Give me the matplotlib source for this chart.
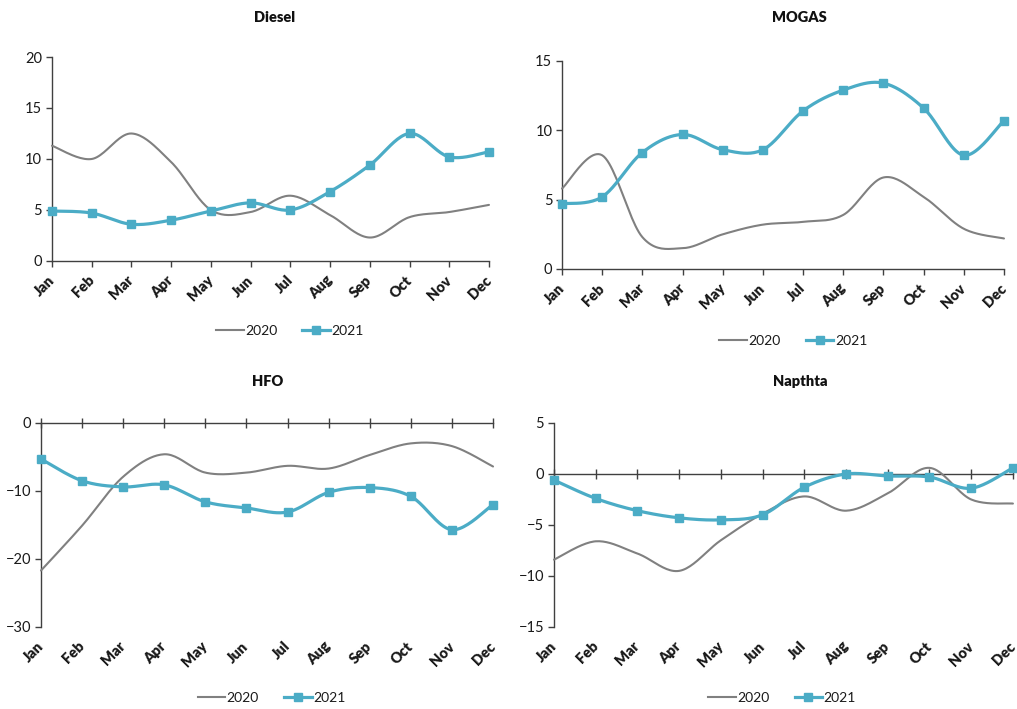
import numpy as np
import matplotlib
matplotlib.use("Agg")
import matplotlib.pyplot as plt
from matplotlib.lines import Line2D
import matplotlib.transforms as mtransforms

plt.rcParams['font.family'] = ['Lato', 'DejaVu Sans']

months = ["Jan", "Feb", "Mar", "Apr", "May", "Jun",
          "Jul", "Aug", "Sep", "Oct", "Nov", "Dec"]

diesel_2020 = [11.3, 10.0, 12.5, 9.7, 5.0, 4.8, 6.4, 4.5, 2.3, 4.3, 4.8, 5.5]
diesel_2021 = [4.9, 4.7, 3.6, 4.0, 4.9, 5.7, 5.0, 6.8, 9.4, 12.5, 10.2, 10.7]

mogas_2020 = [5.8, 8.2, 2.3, 1.5, 2.5, 3.2, 3.4, 3.9, 6.6, 5.2, 2.9, 2.2]
mogas_2021 = [4.7, 5.2, 8.4, 9.7, 8.6, 8.6, 11.4, 12.9, 13.4, 11.6, 8.2, 10.7]

hfo_2020 = [-21.7, -15.1, -7.9, -4.6, -7.3, -7.3, -6.3, -6.7, -4.7, -3.0, -3.4, -6.4]
hfo_2021 = [-5.3, -8.5, -9.4, -9.1, -11.6, -12.5, -13.1, -10.2, -9.5, -10.8, -15.7, -12.0]

naphtha_2020 = [-8.4, -6.6, -7.8, -9.5, -6.5, -3.9, -2.2, -3.6, -1.9, 0.6, -2.5, -2.9]
naphtha_2021 = [-0.6, -2.4, -3.6, -4.3, -4.5, -4.0, -1.3, 0.0, -0.2, -0.3, -1.4, 0.6]

GRAY = "#808080"
BLUE = "#4BACC6"
AXIS = "#404040"
TEXT = "#1a1a1a"


def smooth(values, steps=24):
    """Smoothed line through the points using Bezier segments (Catmull-Rom tangents)."""
    y = np.asarray(values, dtype=float)
    x = np.arange(len(y), dtype=float)
    p = np.column_stack([x, y])
    ext = np.vstack([p[0], p, p[-1]])
    xs, ys = [], []
    t = np.linspace(0, 1, steps)[:, None]
    for i in range(len(p) - 1):
        p0 = ext[i + 1]
        p3 = ext[i + 2]
        p1 = p0 + (ext[i + 2] - ext[i]) / 6.0
        p2 = p3 - (ext[i + 3] - ext[i + 1]) / 6.0
        seg = ((1 - t) ** 3) * p0 + 3 * ((1 - t) ** 2) * t * p1 + 3 * (1 - t) * t ** 2 * p2 + t ** 3 * p3
        if i > 0:
            seg = seg[1:]
        xs.append(seg[:, 0])
        ys.append(seg[:, 1])
    return np.concatenate(xs), np.concatenate(ys)


fig = plt.figure(figsize=(10.17, 7.09), dpi=100)

panels = [
    dict(title="Diesel", a=diesel_2020, b=diesel_2021, ylim=(0, 20), yticks=[0, 5, 10, 15, 20],
         rect=[0.0511, 0.6319, 0.4297, 0.2877], title_xy=(0.27, 0.975),
         leg_xy=(0.285, 0.533)),
    dict(title="MOGAS", a=mogas_2020, b=mogas_2021, ylim=(0, 15), yticks=[0, 5, 10, 15],
         rect=[0.5526, 0.6206, 0.4346, 0.2934], title_xy=(0.786, 0.975),
         leg_xy=(0.78, 0.519)),
    dict(title="HFO", a=hfo_2020, b=hfo_2021, ylim=(-30, 0), yticks=[-30, -20, -10, 0],
         rect=[0.0403, 0.1157, 0.4445, 0.2877], title_xy=(0.263, 0.462),
         leg_xy=(0.267, 0.0155)),
    dict(title="Napthta", a=naphtha_2020, b=naphtha_2021, ylim=(-15, 5), yticks=[-15, -10, -5, 0, 5],
         rect=[0.5447, 0.1157, 0.4513, 0.2877], title_xy=(0.787, 0.462),
         leg_xy=(0.769, 0.0155)),
]

x_idx = np.arange(len(months))
label_shift = mtransforms.ScaledTranslation(0 / 100, -17 / 100, fig.dpi_scale_trans)

for pnl in panels:
    ax = fig.add_axes(pnl["rect"])
    xa, ya = smooth(pnl["a"])
    xb, yb = smooth(pnl["b"])
    ax.plot(xa, ya, color=GRAY, lw=1.5, solid_capstyle="round", zorder=3, clip_on=False)
    ax.plot(xb, yb, color=BLUE, lw=2.3, solid_capstyle="round", zorder=4, clip_on=False)
    ax.plot(x_idx, pnl["b"], ls="none", marker="s", ms=5.8, color=BLUE, zorder=5, clip_on=False)

    ax.set_xlim(0, len(months) - 1)
    ax.set_ylim(*pnl["ylim"])
    ax.set_yticks(pnl["yticks"])
    ax.set_xticks(x_idx)

    for side in ("top", "right"):
        ax.spines[side].set_visible(False)
    for side in ("left", "bottom"):
        ax.spines[side].set_color(AXIS)
        ax.spines[side].set_linewidth(1.0)
    ax.tick_params(axis="y", direction="out", length=4, width=1.0, color=AXIS,
                   labelsize=10.5, labelcolor=TEXT, pad=3)

    if pnl["ylim"][0] < 0:
        ax.spines["bottom"].set_position(("data", 0))
        ax.tick_params(axis="x", direction="inout", length=7, width=1.0, color=AXIS,
                       labelbottom=False)
    else:
        ax.tick_params(axis="x", direction="out", length=4, width=1.0, color=AXIS,
                       labelbottom=False)

    # month labels sit below the plot area regardless of where the x axis line is
    trans = mtransforms.blended_transform_factory(ax.transData, ax.transAxes) + label_shift
    for i, m in enumerate(months):
        ax.text(i, 0, m, transform=trans, rotation=45, ha="right", va="center",
                rotation_mode="anchor", fontsize=10.5, fontweight="heavy", color=TEXT,
                clip_on=False)

    fig.text(pnl["title_xy"][0], pnl["title_xy"][1], pnl["title"], ha="center", va="center",
             fontsize=10.5, fontweight="heavy", color="#111111")

    handles = [
        Line2D([], [], color=GRAY, lw=1.5),
        Line2D([], [], color=BLUE, lw=2.3, marker="s", ms=5.8),
    ]
    fig.legend(handles, ["2020", "2021"], loc="center", bbox_to_anchor=pnl["leg_xy"],
               ncol=2, frameon=False, fontsize=10, handlelength=2.0, handletextpad=0.1,
               columnspacing=1.8, labelcolor=TEXT)

fig.savefig("out.png", dpi=100, facecolor="white")
